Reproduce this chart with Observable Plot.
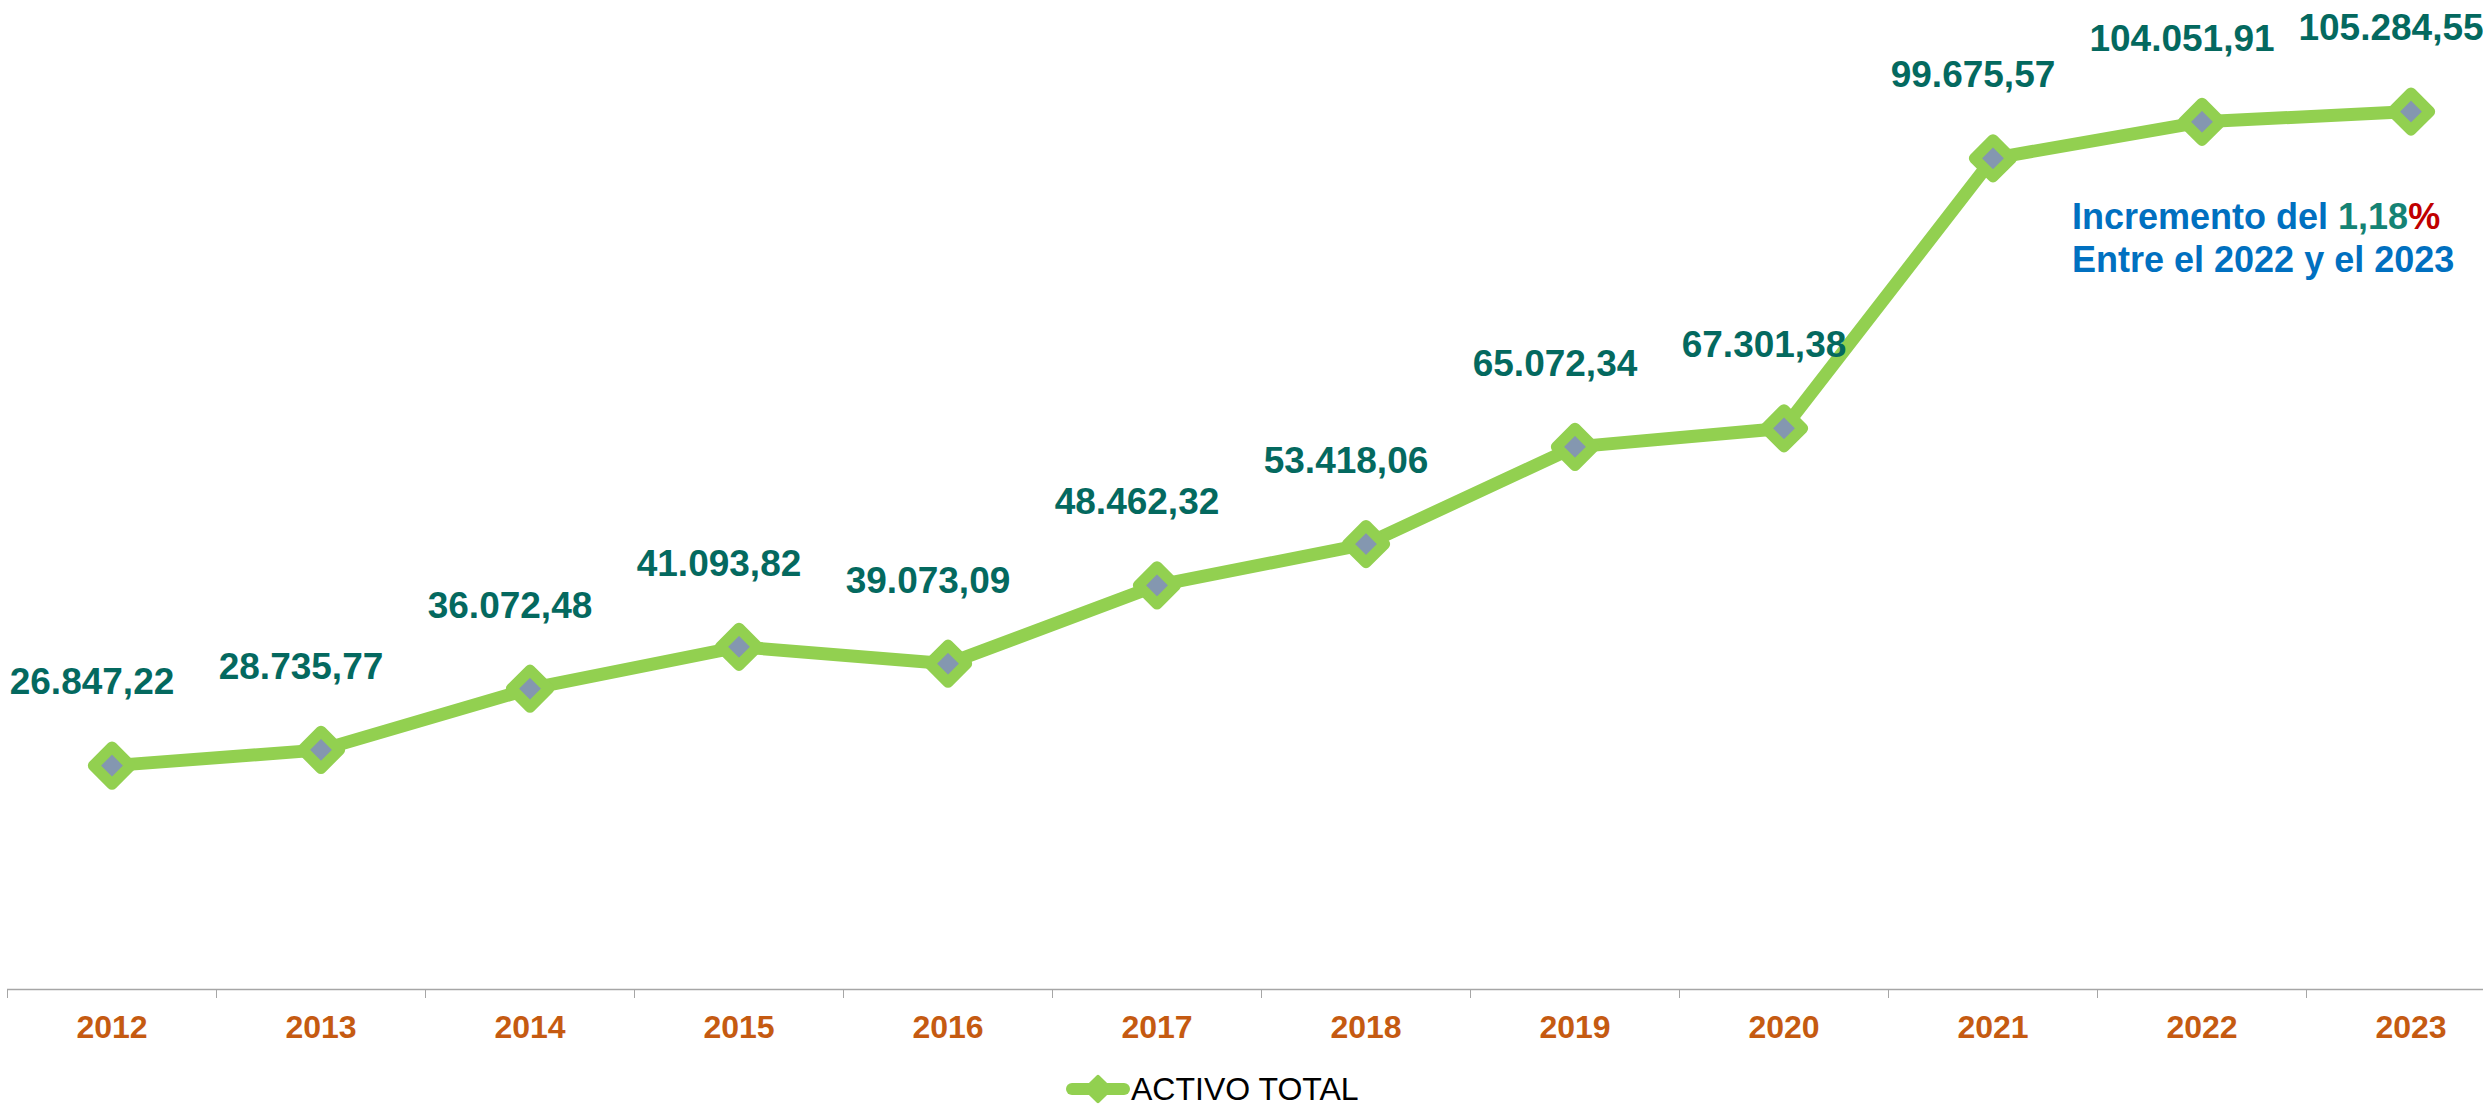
<!DOCTYPE html>
<html>
<head>
<meta charset="utf-8">
<script src="https://cdn.jsdelivr.net/npm/d3@7"></script>
<script src="https://cdn.jsdelivr.net/npm/@observablehq/plot@0.6"></script>
<style>
  html, body { margin: 0; padding: 0; background: #fff; }
  body { width: 2483px; height: 1110px; position: relative; overflow: hidden; font-family: "Liberation Sans", Arial, sans-serif; }
  #legend { position: absolute; left: 1066px; top: 1069px; height: 40px; display: flex; align-items: center; font-size: 32px; line-height: 40px; color: #000; }
  #legend svg { display: block; margin-right: 1px; }
</style>
</head>
<body>
<div id="chart"></div>
<div id="legend"></div>
<script>
// ---- data ----
const years = [2012, 2013, 2014, 2015, 2016, 2017, 2018, 2019, 2020, 2021, 2022, 2023];
const activoTotal = [26847.22, 28735.77, 36072.48, 41093.82, 39073.09, 48462.32, 53418.06, 65072.34, 67301.38, 99675.57, 104051.91, 105284.55];
const seriesName = "ACTIVO TOTAL";
const noteLine1 = ["Incremento del ", "1,18", "%"];
const noteLine2 = "Entre el 2022 y el 2023";

const data = years.map((year, i) => ({year, value: activoTotal[i]}));
const boundaries = [...years.map(y => y - 0.5), years[years.length - 1] + 0.5];

const esLocale = d3.formatLocale({decimal: ",", thousands: ".", grouping: [3], currency: ["", ""]});
const fmt = esLocale.format(",.2f");

const GREEN = "#92D050";
const FONT = "Liberation Sans, Arial, sans-serif";

const chart = Plot.plot({
  width: 2483,
  height: 1060,
  marginLeft: 7,
  marginRight: 0,
  marginTop: 0,
  marginBottom: 71,
  style: {fontFamily: FONT, background: "white", color: "#A6A6A6", overflow: "hidden"},
  x: {type: "linear", domain: [2011.5, 2023.5], range: [7, 2515], ticks: boundaries, tickSize: 9, tickFormat: () => "", label: null},
  y: {domain: [0, 118600], axis: null},
  marks: [
    Plot.ruleY([0], {stroke: "#A6A6A6", strokeWidth: 1.5}),
    Plot.text(years, {x: d => d, frameAnchor: "bottom", lineAnchor: "middle", dy: 38, text: d => String(d), fill: "#C55A11", fontSize: 32, fontWeight: "bold"}),
    Plot.line(data, {x: "year", y: "value", stroke: GREEN, strokeWidth: 13, strokeLinejoin: "round", strokeLinecap: "round"}),
    Plot.dot(data, {x: "year", y: "value", symbol: "diamond2", r: 16.8, fill: "#8497B0", stroke: GREEN, strokeWidth: 11, strokeLinejoin: "round"}),
    Plot.text(data, {x: "year", y: "value", text: d => fmt(d.value), dx: -20, dy: -83, fill: "#04695F", fontSize: 37, fontWeight: "bold"})
  ]
});
document.getElementById("chart").appendChild(chart);

// annotation
const svg = d3.select(chart);
const note = svg.append("text")
  .attr("font-family", FONT).attr("font-size", 36).attr("font-weight", "bold")
  .attr("fill", "#0070C0").attr("text-anchor", "start");
note.append("tspan").attr("x", 2072).attr("y", 229).text(noteLine1[0]);
note.append("tspan").attr("fill", "#158374").text(noteLine1[1]);
note.append("tspan").attr("fill", "#C00000").text(noteLine1[2]);
note.append("tspan").attr("x", 2072).attr("y", 272).text(noteLine2);

// legend
const legend = d3.select("#legend");
const ls = legend.append("svg").attr("width", 64).attr("height", 40);
ls.append("line").attr("x1", 6).attr("x2", 58).attr("y1", 20).attr("y2", 20)
  .attr("stroke", GREEN).attr("stroke-width", 12).attr("stroke-linecap", "round");
ls.append("path").attr("d", d3.symbol(d3.symbolDiamond2, 380)())
  .attr("transform", "translate(32,20)").attr("fill", GREEN).attr("stroke", GREEN)
  .attr("stroke-width", 4).attr("stroke-linejoin", "round");
legend.append("span").text(seriesName);
</script>
</body>
</html>
